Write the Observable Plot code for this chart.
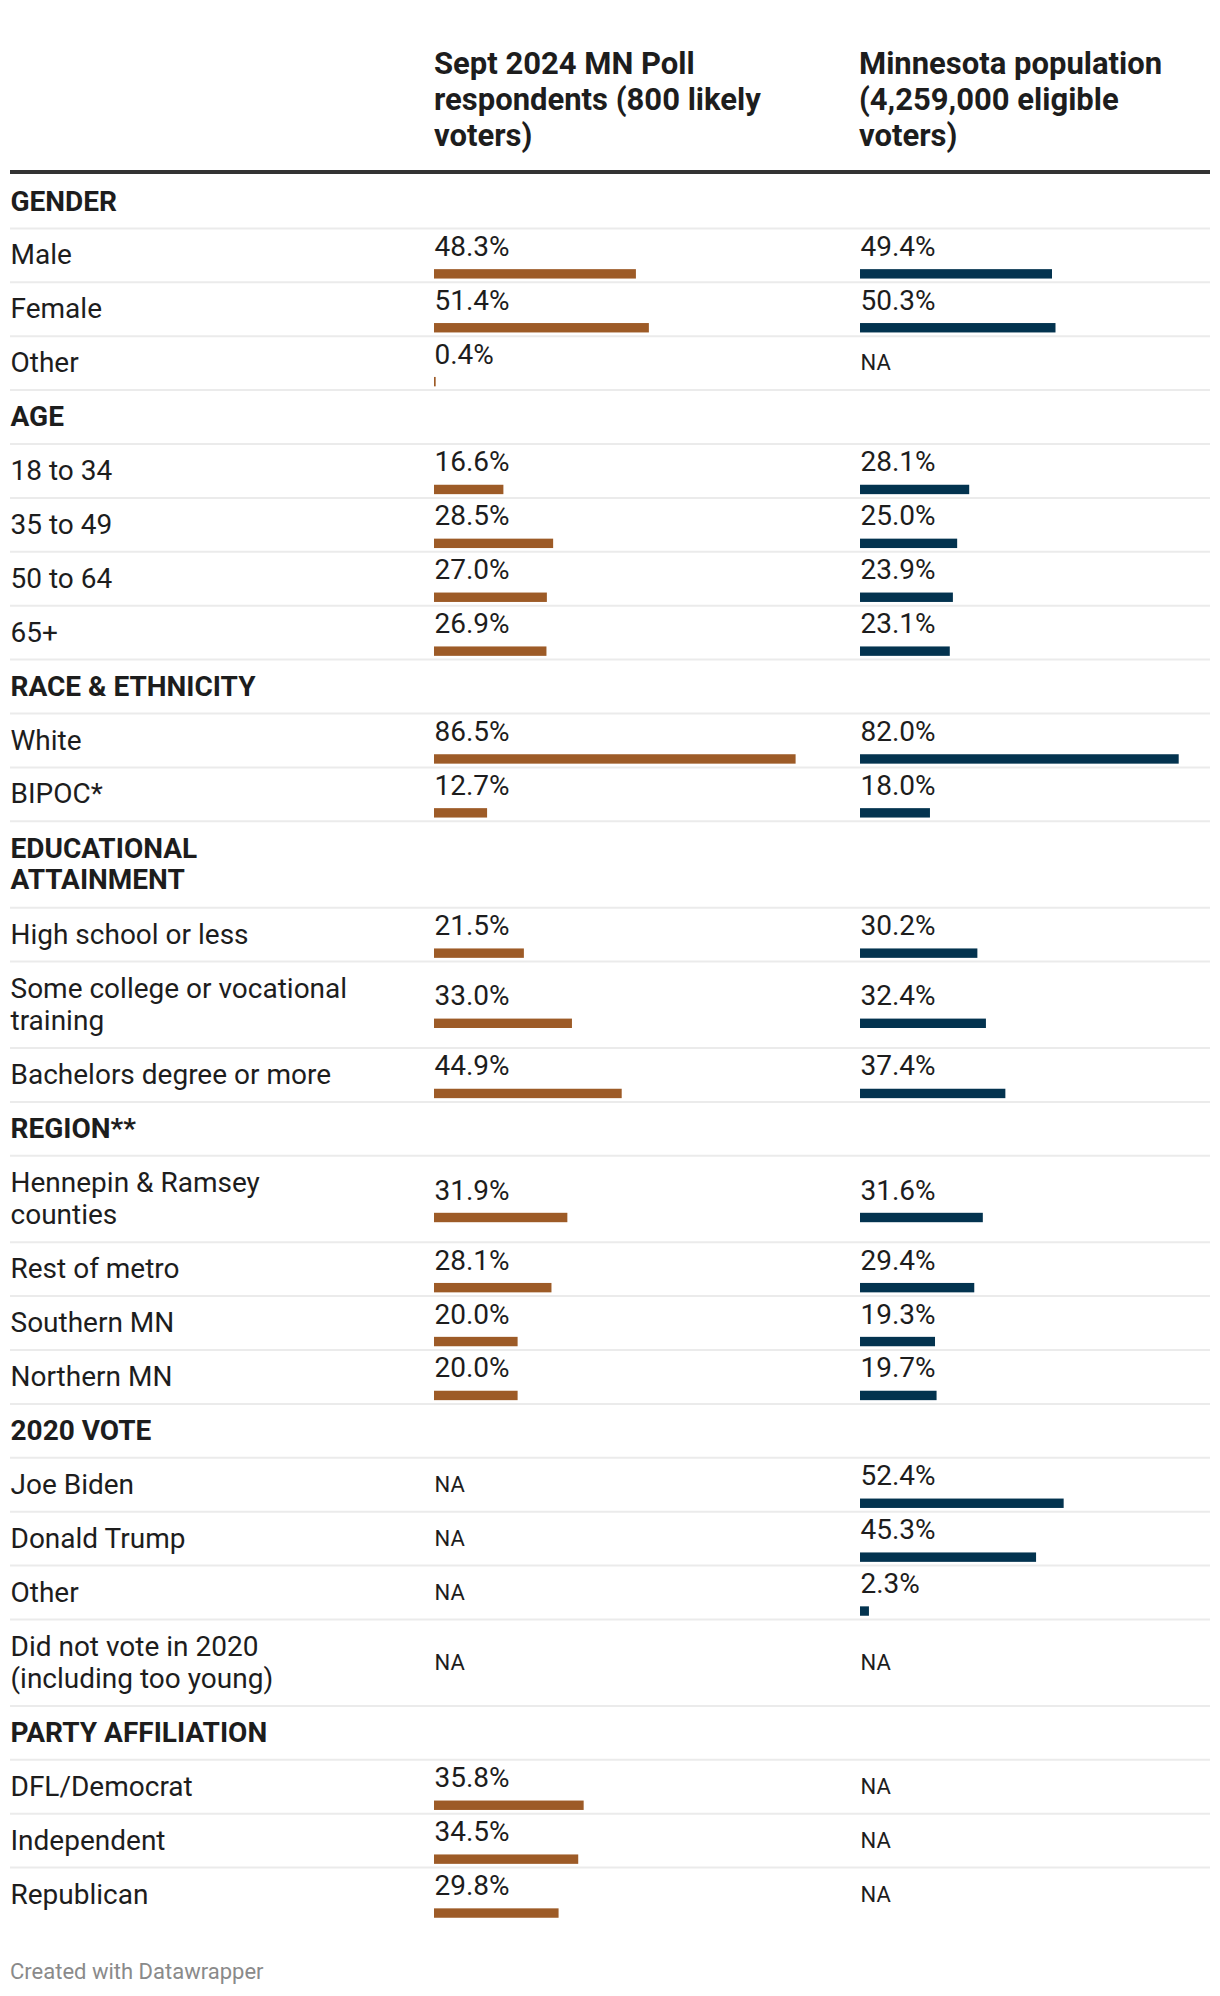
<!DOCTYPE html>
<html><head><meta charset="utf-8">
<script src="https://cdn.jsdelivr.net/npm/d3@7"></script>
<script src="https://cdn.jsdelivr.net/npm/@observablehq/plot@0.6"></script>
<style>
body{margin:0;background:#fff;font-family:Roboto,sans-serif;color:#1d1d1d;}
#wrap{position:relative;width:1220px;height:1996px;}
.coltitle{position:absolute;top:46px;font-weight:700;font-size:31px;line-height:36px;white-space:pre;color:#1d1d1d;}
#rule{position:absolute;left:10px;top:170px;width:1200px;height:4px;background:#333;}
#body{position:absolute;left:10px;top:174px;display:flex;}
#body svg{display:block;}
#footer{position:absolute;left:10px;top:1961px;font-size:22px;line-height:22px;color:#8a8a8a;}
</style></head><body>
<div id="wrap">
  <div class="coltitle" id="t1" style="left:434px"></div>
  <div class="coltitle" id="t2" style="left:859px"></div>
  <div id="rule"></div>
  <div id="body"></div>
  <div id="footer">Created with Datawrapper</div>
</div>
<script>
// ---- data ----
const columnTitles = [
  "Sept 2024 MN Poll\nrespondents (800 likely\nvoters)",
  "Minnesota population\n(4,259,000 eligible\nvoters)"
];
const sections = ["GENDER", "AGE", "RACE & ETHNICITY", "EDUCATIONAL\nATTAINMENT", "REGION**", "2020 VOTE", "PARTY AFFILIATION"];
const categories = [
  ["Male", "Female", "Other"],
  ["18 to 34", "35 to 49", "50 to 64", "65+"],
  ["White", "BIPOC*"],
  ["High school or less", "Some college or vocational\ntraining", "Bachelors degree or more"],
  ["Hennepin & Ramsey\ncounties", "Rest of metro", "Southern MN", "Northern MN"],
  ["Joe Biden", "Donald Trump", "Other", "Did not vote in 2020\n(including too young)"],
  ["DFL/Democrat", "Independent", "Republican"]
];
const pollValues = [
  [48.3, 51.4, 0.4],
  [16.6, 28.5, 27.0, 26.9],
  [86.5, 12.7],
  [21.5, 33.0, 44.9],
  [31.9, 28.1, 20.0, 20.0],
  [null, null, null, null],
  [35.8, 34.5, 29.8]
];
const popValues = [
  [49.4, 50.3, null],
  [28.1, 25.0, 23.9, 23.1],
  [82.0, 18.0],
  [30.2, 32.4, 37.4],
  [31.6, 29.4, 19.3, 19.7],
  [52.4, 45.3, 2.3, null],
  [null, null, null]
];

// ---- build rows ----
const rows = [];
sections.forEach((s, i) => {
  rows.push({label: s, kind: "section"});
  categories[i].forEach((c, j) => rows.push({label: c, kind: "item", poll: pollValues[i][j], pop: popValues[i][j]}));
});
let acc = 0;
for (const r of rows) {
  const lines = r.label.split("\n").length;
  const u = 1 + 0.603 * (lines - 1);
  r.top = acc; r.bottom = acc + u; r.center = acc + u / 2;
  acc += u;
}
const totalUnits = acc;
const unitPx = 53.9;
const H = Math.round(totalUnits * unitPx);
const seps = rows.slice(0, -1);
const items = rows.filter(r => r.kind === "item");

const sepColor = "#ebebeb";
const yOpt = {domain: [0, totalUnits], range: [0, H], axis: null};
const fontStyle = {fontFamily: "Roboto, sans-serif", background: "white", overflow: "visible"};

document.getElementById("t1").textContent = columnTitles[0];
document.getElementById("t2").textContent = columnTitles[1];

const labelPlot = Plot.plot({
  width: 424, height: H, margin: 0,
  x: {domain: [0, 1], axis: null},
  y: yOpt,
  style: fontStyle,
  marks: [
    Plot.ruleY(seps, {y: "bottom", stroke: sepColor, strokeWidth: 2}),
    Plot.text(rows.filter(r => r.kind === "section"), {y: "center", text: "label", frameAnchor: "left", textAnchor: "start", dx: 0, dy: -1, fontSize: 28, fontWeight: 700, lineHeight: 1.13, fill: "#1d1d1d"}),
    Plot.text(items, {y: "center", text: "label", frameAnchor: "left", textAnchor: "start", dx: 0, dy: -1, fontSize: 28, lineHeight: 1.13, fill: "#1d1d1d"})
  ]
});

function colPlot(key, color, w, barMax) {
  const has = items.filter(d => d[key] != null);
  const na = items.filter(d => d[key] == null);
  return Plot.plot({
    width: w, height: H, margin: 0,
    x: {domain: [0, d3.max(has, d => d[key])], range: [0, barMax], axis: null},
    y: yOpt,
    style: fontStyle,
    marks: [
      Plot.ruleY(seps, {y: "bottom", stroke: sepColor, strokeWidth: 2}),
      Plot.rect(has, {x1: 0, x2: key, y1: "center", y2: "center", insetTop: -4.7, insetBottom: -4.7, dy: 19, fill: color}),
      Plot.text(has, {x: 0, y: "center", text: d => d[key].toFixed(1) + "%", textAnchor: "start", lineAnchor: "bottom", dy: 0.5, fontSize: 28, fill: "#1d1d1d"}),
      Plot.text(na, {x: 0, y: "center", text: () => "NA", textAnchor: "start", lineAnchor: "middle", fontSize: 22, fill: "#1d1d1d"})
    ]
  });
}

const body = document.getElementById("body");
body.appendChild(labelPlot);
body.appendChild(colPlot("poll", "#9d5b27", 426, 361.6));
body.appendChild(colPlot("pop", "#03334f", 350, 318.7));
</script>
</body></html>
